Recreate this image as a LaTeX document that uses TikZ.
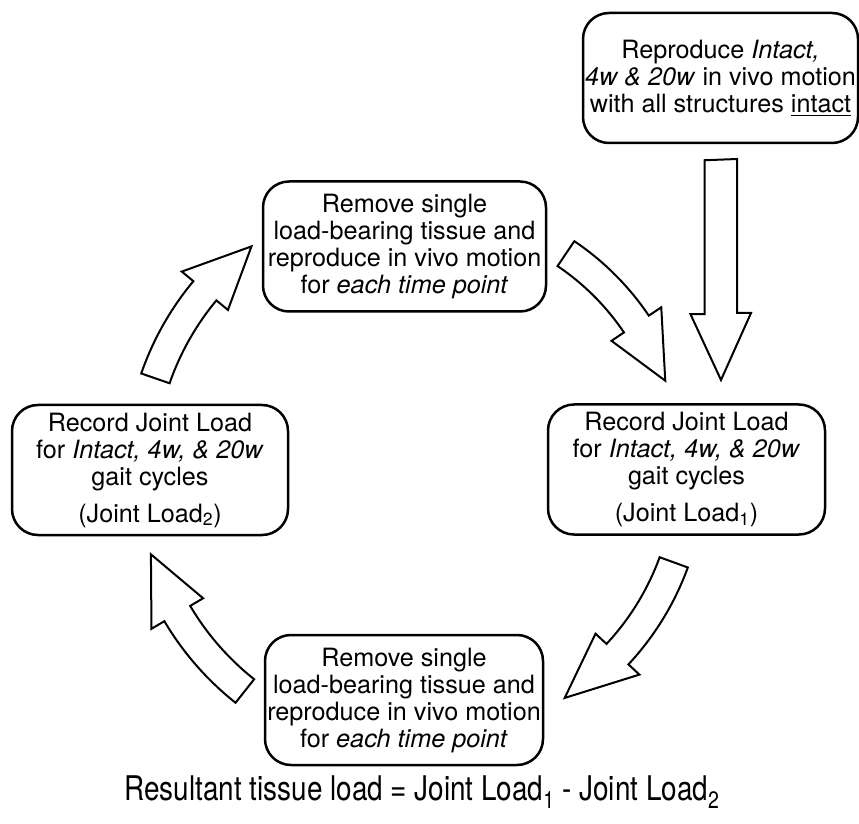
\documentclass[tikz,border=0pt]{standalone}
\usepackage{fontspec}
\usepackage{graphicx}
\setmainfont{TeX Gyre Heros}
\tikzset{
	cyclebox/.style={draw, line width=2.5pt, rounded corners=26pt, inner sep=0pt,
		minimum height=130pt, align=center, font=\fontsize{25.2}{27}\selectfont},
	blockarrow/.style={draw, line width=2pt, fill=white, line join=miter}
}
% curved block arrow round the cycle centre: start angle, head angle, tip angle, radius
\newcommand{\turnarrow}[4]{%
	\draw[blockarrow] (#1:{#4+15}) arc[start angle=#1, end angle=#2, radius={#4+15}]
		-- (#2:{#4+30}) -- (#3:#4) -- (#2:{#4-30}) -- (#2:{#4-15})
		arc[start angle=#2, end angle=#1, radius={#4-15}] -- cycle;}
\begin{document}
\begin{tikzpicture}[x=1pt,y=1pt]
	\useasboundingbox (0,0) rectangle (859,823);
	% boxes
	\node[cyclebox, minimum width=275pt] (intact) at (720.5,745) {Reproduce \textit{Intact,}\\\textit{4w \& 20w} in vivo motion\\with all structures \underline{intact}};
	\node[cyclebox, minimum width=283pt] (removeA) at (404.5,576.5) {Remove single\\load-bearing tissue and\\reproduce in vivo motion\\for \textit{each time point}};
	\node[cyclebox, minimum width=277pt] (recordA) at (686.5,353.5) {Record Joint Load\\for \textit{Intact, 4w, \& 20w}\\gait cycles\\[10pt](Joint Load\textsubscript{1})};
	\node[cyclebox, minimum width=276pt] (recordB) at (150,353) {Record Joint Load\\for \textit{Intact, 4w, \& 20w}\\gait cycles\\[10pt](Joint Load\textsubscript{2})};
	\node[cyclebox, minimum width=278pt] (removeB) at (404,123) {Remove single\\load-bearing tissue and\\reproduce in vivo motion\\for \textit{each time point}};
	\node[anchor=base, font=\fontsize{34}{36}\selectfont] (result) at (422,23) {\scalebox{0.82}[1]{Resultant tissue load = Joint Load\textsubscript{1} - Joint Load\textsubscript{2}}};
	% straight arrow down to the first record
	\coordinate (dropTop) at ([yshift=-16pt]intact.south);
	\coordinate (dropTip) at (721,443);
	\draw[blockarrow] (dropTop) ++(-16,0) -- ++(0,-154) -- ++(-14,0) -- (dropTip)
		-- ++(30,67) -- ++(-14,0) -- ++(0,154) -- cycle;
	% curved arrows of the cycle
	\coordinate (centre) at (420,353);
	\begin{scope}[shift={(centre)}]
		\turnarrow{56}{34}{20}{261}
		\turnarrow{-20}{-43}{-57.6}{270}
		\turnarrow{231.6}{210.6}{197.4}{282}
		\turnarrow{160.9}{140.2}{127}{280}
	\end{scope}
\end{tikzpicture}
\end{document}
